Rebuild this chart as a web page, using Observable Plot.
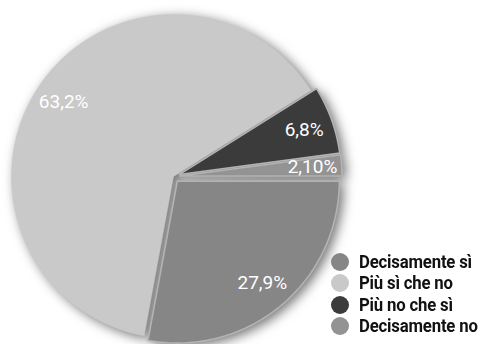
<!DOCTYPE html>
<html><head><meta charset="utf-8">
<script src="https://cdn.jsdelivr.net/npm/d3@7"></script>
<script src="https://cdn.jsdelivr.net/npm/@observablehq/plot@0.6"></script>
<style>
body{margin:0;background:#fff;}
#wrap{position:relative;width:488px;height:344px;overflow:hidden;}
#wrap svg g.slices{filter:drop-shadow(4px 3px 6px rgba(0,0,0,0.55));}
#legend{position:absolute;left:331px;top:251px;font-family:Roboto,"DejaVu Sans",sans-serif;font-weight:bold;font-size:18px;line-height:1;color:#111;white-space:nowrap;}
#legend div{display:flex;align-items:center;height:21.5px;}
#legend span.sw{display:inline-block;width:18px;height:18px;border-radius:50%;margin-right:10px;flex:none;}
#legend span.tx{display:inline-block;line-height:18px;height:18px;transform:scaleX(0.93);transform-origin:0 50%;letter-spacing:-0.2px;}
</style></head>
<body><div id="wrap"></div>
<script>
const categories = ["Decisamente sì","Più sì che no","Più no che sì","Decisamente no"];
const values = [27.9, 63.2, 6.8, 2.1];
const labels = ["27,9%","63,2%","6,8%","2,10%"];
const colors = ["#868686","#c9c9c9","#3b3b3b","#939393"];
const explode = [0.037, 0, 0.037, 0.04];

const arcs = d3.pie().sort(null).value(d => d).startAngle(Math.PI/2).endAngle(Math.PI/2 + 2*Math.PI)(values);
const rows = [];
const labelRows = [];
arcs.forEach((a, i) => {
  const mid = (a.startAngle + a.endAngle)/2;
  const ox = explode[i]*Math.sin(mid), oy = explode[i]*Math.cos(mid);
  const cat = categories[i];
  rows.push({cat, x: ox, y: oy});
  const n = Math.max(4, Math.ceil((a.endAngle - a.startAngle)/(Math.PI/180)));
  for (let k = 0; k <= n; k++) {
    const t = a.startAngle + (a.endAngle - a.startAngle)*k/n;
    rows.push({cat, x: ox + Math.sin(t), y: oy + Math.cos(t)});
  }
  rows.push({cat, x: ox, y: oy});
  labelRows.push({label: labels[i], x: ox + 0.82*Math.sin(mid), y: oy + 0.82*Math.cos(mid)});
});

const chart = Plot.plot({
  width: 488, height: 344,
  marginLeft: 11, marginRight: 153, marginTop: 14, marginBottom: 6,
  x: {domain: [-1, 1], axis: null},
  y: {domain: [-1, 1], axis: null},
  color: {domain: categories, range: colors},
  marks: [
    Plot.line(rows, {x: "x", y: "y", z: "cat", fill: "cat", stroke: "cat", strokeWidth: 0.5, curve: "linear"}),
    Plot.line(rows.filter(d => d.cat !== categories[1]), {x: "x", y: "y", z: "cat", stroke: "#b3b3b3", strokeWidth: 1.6, fill: "none"}),
    Plot.text(labelRows, {x: "x", y: "y", text: "label", fill: "white", fontSize: 19, fontFamily: "Roboto, sans-serif"})
  ]
});
chart.querySelectorAll("g[aria-label=line]")[0].classList.add("slices");
const wrap = document.getElementById("wrap");
wrap.appendChild(chart);
const legend = document.createElement("div");
legend.id = "legend";
categories.forEach((c, i) => {
  const row = document.createElement("div");
  const sw = document.createElement("span");
  sw.className = "sw"; sw.style.background = colors[i];
  const tx = document.createElement("span");
  tx.className = "tx"; tx.textContent = c;
  row.appendChild(sw);
  row.appendChild(tx);
  legend.appendChild(row);
});
wrap.appendChild(legend);
</script></body></html>
